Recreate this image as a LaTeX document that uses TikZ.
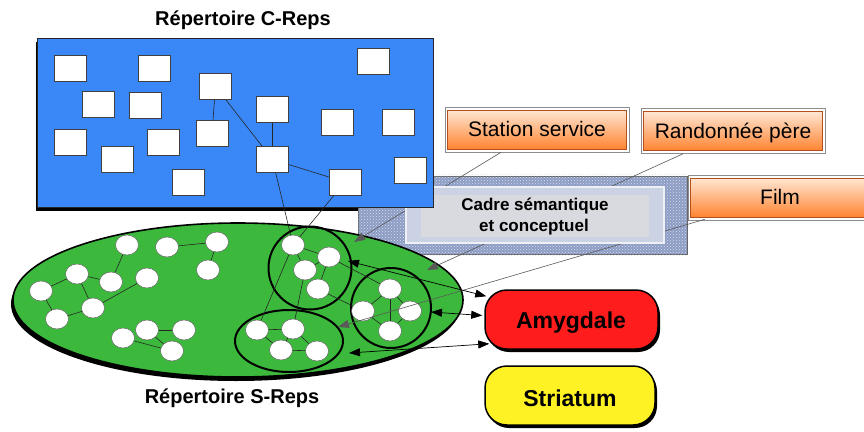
\documentclass[tikz,border=0pt]{standalone}
\usepackage{fontspec}
\setmainfont{Liberation Sans}
\usetikzlibrary{shapes.geometric,arrows.meta,calc,patterns,shadows}
\definecolor{cblue}{HTML}{3A87F8}
\definecolor{sgreen}{HTML}{3CB93C}
\definecolor{cadre}{HTML}{8C9CC4}
\definecolor{cadrein}{HTML}{D9DADF}
\definecolor{amyred}{HTML}{FF1C1C}
\definecolor{striyel}{HTML}{FFF224}
\definecolor{orlight}{HTML}{FFE6D2}
\definecolor{ordark}{HTML}{FF8432}
\definecolor{orline}{HTML}{B4501E}
\begin{document}
\begin{tikzpicture}[x=1pt,y=-1pt,
 cbox/.style={draw=black!75, line width=0.7pt, fill=white, minimum width=32pt, minimum height=26pt, inner sep=0pt},
 snode/.style={ellipse, draw=black!60, line width=0.5pt, fill=white, minimum width=23pt, minimum height=20pt, inner sep=0pt},
 link/.style={draw=black!85, line width=0.6pt},
 clus/.style={draw=black, line width=2pt, inner sep=0pt},
 oframe/.style={draw=black!45, line width=0.6pt, fill=white, minimum height=45pt, inner sep=0pt},
 ofill/.style={draw=orline, line width=0.7pt, top color=orlight, bottom color=ordark, minimum height=39pt, inner sep=0pt},
 feed/.style={draw=black!65, line width=0.6pt, -{Triangle[length=11pt,width=8pt]}},
 bothway/.style={draw=black, line width=0.7pt, {Triangle[length=11pt,width=8pt]}-{Triangle[length=11pt,width=8pt]}},
 ttl/.style={font=\bfseries\fontsize{20}{24}\selectfont, anchor=base, inner sep=0pt},
 otext/.style={font=\fontsize{21}{25}\selectfont, anchor=base, inner sep=0pt},
 ctext/.style={font=\bfseries\fontsize{17}{20}\selectfont, anchor=base, inner sep=0pt},
 brain/.style={rounded corners=22pt, draw=black, line width=1.5pt, minimum height=59pt, inner sep=0pt,
   drop shadow={shadow xshift=2pt, shadow yshift=-3pt, opacity=1, fill=black}},
 btext/.style={font=\bfseries\fontsize{23}{27}\selectfont, anchor=base, inner sep=0pt}
]
\clip (0,0) rectangle (864,431);
\fill[white] (0,0) rectangle (864,431);
% shadow of the C-Reps box
\fill[black] (36,42) rectangle (432,211);
% semantic frame (outer band)
\node[draw=black!60, line width=0.6pt, fill=cadre, minimum width=329pt, minimum height=78pt, inner sep=0pt] (cadre) at (522.5,215) {};
\fill[pattern=crosshatch dots, pattern color=white!70!cadre] ([shift={(1,-1)}]cadre.north west) rectangle ([shift={(-1,1)}]cadre.south east);
% S-Reps ellipse
\fill[black] (236,304) ellipse [x radius=225pt, y radius=77pt];
\node[ellipse, fill=sgreen, draw=black, line width=1.6pt, minimum width=450pt, minimum height=154pt, inner sep=0pt] (srep) at (238,300) {};
% clusters
\node[clus, circle, minimum size=83pt] (c1) at (310,268) {};
\node[clus, circle, minimum size=80pt] (c2) at (391,308) {};
\node[clus, ellipse, minimum width=108pt, minimum height=62pt] (c3) at (289,341) {};
% S nodes
\foreach \n/\x/\y in {a/127/245, b/167/247, c/217/242, d/208/270, e/77/274, f/111/282, g/147/278,
  h/41/291, i/93/308, j/57/319, k/123/338, l/147/330, m/184/330, n/172/351,
  p1/293/245, p2/329/257, p3/305/270, p4/318/289,
  r1/363/311, r2/390/289, r3/410/311, r4/390/331,
  q1/257/330, q2/293/329, q3/281/350, q4/317/351}
  \node[snode] (\n) at (\x,\y) {};
\foreach \u/\v in {a/f, b/c, c/d, e/f, e/h, e/i, h/j, j/i, i/g, k/n, l/m, l/n,
  p1/p2, p1/p3, p2/p3, p2/p4, p1/q1, p3/q2, p2/r2, p4/r1,
  r1/r2, r2/r3, r3/r4, r4/r1, r2/r4,
  q1/q2, q1/q3, q2/q3, q3/q4, q2/q4}
  \draw[link] (\u) -- (\v);
% orange boxes
\node[oframe, minimum width=184pt] (st) at (537,129.5) {};
\node[ofill, minimum width=179pt] (stin) at (537,129.5) {};
\node[otext] (stt) at (537,136) {Station service};
\node[oframe, minimum width=184pt] (rd) at (733,131) {};
\node[ofill, minimum width=179pt] (rdin) at (733,131) {};
\node[otext] (rdt) at (733,138) {Randonnée père};
\node[oframe, minimum width=192pt] (film) at (784,197.5) {};
\node[ofill, minimum width=187pt] (filmin) at (784,197.5) {};
\node[otext] (filmt) at (780,204) {Film};
% brain areas
\node[brain, fill=amyred, minimum width=173pt] (amy) at (571.5,319.5) {};
\node[btext] (amyt) at (571,328) {Amygdale};
\node[brain, fill=striyel, minimum width=170pt] (stri) at (570,395.5) {};
\node[btext] (strit) at (570,406) {Striatum};
% feeds from contexts
\coordinate (t1) at (354,242);
\coordinate (t2) at (427,270);
\coordinate (t3) at (338,327);
\draw[feed] ($(st.south)+(-36,0)$) -- (t1);
\draw[feed] ($(rd.south)+(-50,0)$) -- (t2);
\draw[feed] ($(film.south west)+(17,-1)$) -- (t3);
% links with amygdala
\coordinate (u1) at (348,261);
\coordinate (u2) at (431,312);
\coordinate (u3) at (349,353);
\coordinate (v1) at ($(amy.north west)+(2,7)$);
\coordinate (v2) at ($(amy.west)+(-2,-4)$);
\coordinate (v3) at ($(amy.south west)+(5,-6)$);
\draw[bothway] (u1) -- (v1);
\draw[bothway] (u2) -- (v2);
\draw[bothway] (u3) -- (v3);
% semantic frame (inner part)
\node[fill=white!55!cadre, draw=white!85!cadre, line width=2pt, minimum width=258pt, minimum height=56pt, inner sep=0pt] (cin) at (535,215) {};
\node[fill=cadrein, minimum width=228pt, minimum height=42pt, inner sep=0pt] (cin2) at (535,216) {};
\node[ctext] (ct1) at (535,210) {Cadre sémantique};
\node[ctext] (ct2) at (534,231) {et conceptuel};
% C-Reps box
\node[draw=black!85, line width=0.8pt, fill=cblue, minimum width=396pt, minimum height=169pt, inner sep=0pt] (crep) at (235,122.5) {};
\foreach \n/\x/\y in {1/70.5/68, 2/154/68, 3/373.5/61, 4/215.5/86.5, 5/98/104.5, 6/145.5/105,
  7/272.5/109.5, 8/337/122, 9/398/122, 10/70.5/142, 11/163.5/142, 12/212/133.5,
  13/117/159.5, 14/272.5/159.5, 15/410/170.5, 16/188/182, 17/345/182}
  \node[cbox] (b\n) at (\x,\y) {};
\foreach \u/\v in {b4/b12, b4/b14, b7/b14, b14/b17, b14/p1, b17/p1}
  \draw[link] (\u) -- (\v);
% titles
\node[ttl] (ctitle) at (243,25) {Répertoire C-Reps};
\node[ttl] (stitle) at (232,403) {Répertoire S-Reps};
\end{tikzpicture}
\end{document}
